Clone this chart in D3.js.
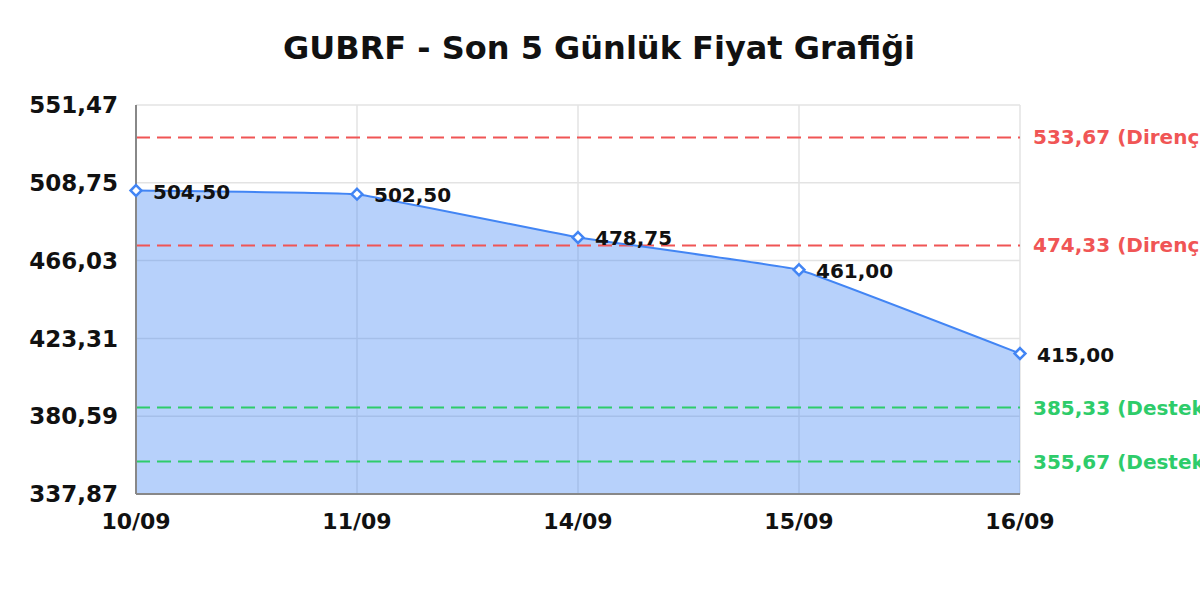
<!DOCTYPE html>
<html>
<head>
<meta charset="utf-8">
<script src="https://cdn.jsdelivr.net/npm/d3@7"></script>
<style>
  body { margin: 0; background: #fff; }
  svg { font-family: "DejaVu Sans", sans-serif; font-weight: bold; }
</style>
</head>
<body>
<div id="wrapper"></div>
<script>
// Data
var dates = ["10/09", "11/09", "14/09", "15/09", "16/09"]
var prices = [504.50, 502.50, 478.75, 461.00, 415.00]
var yTicks = [337.87, 380.59, 423.31, 466.03, 508.75, 551.47]
var resistance = [533.67, 474.33]
var support = [385.33, 355.67]

var fmt = function (v) { return v.toFixed(2).replace(".", ",") }

var margin = { top: 105, right: 180, bottom: 106, left: 136 },
  width = 1200 - margin.left - margin.right,
  height = 600 - margin.top - margin.bottom;

var svg = d3.select("#wrapper")
  .append("svg")
  .attr("width", 1200)
  .attr("height", 600)

// Title
svg.append("text")
  .attr("x", 599)
  .attr("y", 59)
  .attr("text-anchor", "middle")
  .style("font-size", "32px")
  .attr("fill", "#111")
  .text("GUBRF - Son 5 Günlük Fiyat Grafiği")

var g = svg.append("g")
  .attr("transform", "translate(" + margin.left + "," + margin.top + ")")

var x = d3.scalePoint()
  .domain(dates)
  .range([0, width])

var y = d3.scaleLinear()
  .domain([yTicks[0], yTicks[yTicks.length - 1]])
  .range([height, 0])

// Grid
g.append("g")
  .selectAll("line")
  .data(yTicks)
  .enter()
  .append("line")
  .attr("x1", 0)
  .attr("x2", width)
  .attr("y1", d => y(d))
  .attr("y2", d => y(d))
  .attr("stroke", "#e3e3e3")
  .attr("stroke-width", 1.5)

g.append("g")
  .selectAll("line")
  .data(dates)
  .enter()
  .append("line")
  .attr("x1", d => x(d))
  .attr("x2", d => x(d))
  .attr("y1", 0)
  .attr("y2", height)
  .attr("stroke", "#e3e3e3")
  .attr("stroke-width", 1.5)

// Area + line (slight smoothing)
var curve = d3.curveCardinal.tension(0.8)

var area = d3.area()
  .x((d, i) => x(dates[i]))
  .y0(height)
  .y1(d => y(d))
  .curve(curve)

var line = d3.line()
  .x((d, i) => x(dates[i]))
  .y(d => y(d))
  .curve(curve)

g.append("path")
  .datum(prices)
  .attr("d", area)
  .attr("fill", "rgba(66,133,244,0.38)")

// Resistance / support lines
function levelLines(vals, color, label) {
  var lv = g.append("g")
  lv.selectAll("line")
    .data(vals)
    .enter()
    .append("line")
    .attr("x1", 0)
    .attr("x2", width)
    .attr("y1", d => y(d))
    .attr("y2", d => y(d))
    .attr("stroke", color)
    .attr("stroke-width", 2)
    .attr("stroke-dasharray", "14,7")
  lv.selectAll("text")
    .data(vals)
    .enter()
    .append("text")
    .attr("x", width + 13)
    .attr("y", d => y(d))
    .attr("dy", "0.35em")
    .attr("fill", color)
    .style("font-size", "20px")
    .text(d => fmt(d) + " (" + label + ")")
}
levelLines(resistance, "#f05555", "Direnç")
levelLines(support, "#2ecc6a", "Destek")

g.append("path")
  .datum(prices)
  .attr("d", line)
  .attr("fill", "none")
  .attr("stroke", "#4285f4")
  .attr("stroke-width", 2)

// Axes lines
g.append("line")
  .attr("x1", 0).attr("x2", 0)
  .attr("y1", 0).attr("y2", height)
  .attr("stroke", "#888")
  .attr("stroke-width", 2)
g.append("line")
  .attr("x1", 0).attr("x2", width)
  .attr("y1", height).attr("y2", height)
  .attr("stroke", "#888")
  .attr("stroke-width", 2)

// Y tick labels
g.append("g")
  .selectAll("text")
  .data(yTicks)
  .enter()
  .append("text")
  .attr("x", -18)
  .attr("y", d => y(d))
  .attr("dy", "0.36em")
  .attr("text-anchor", "end")
  .attr("fill", "#111")
  .style("font-size", "23px")
  .text(d => fmt(d))

// X tick labels
g.append("g")
  .selectAll("text")
  .data(dates)
  .enter()
  .append("text")
  .attr("x", d => x(d))
  .attr("y", height + 35)
  .attr("text-anchor", "middle")
  .attr("fill", "#111")
  .style("font-size", "22px")
  .text(d => d)

// Markers
g.append("g")
  .selectAll("path")
  .data(prices)
  .enter()
  .append("path")
  .attr("d", d3.symbol().type(d3.symbolDiamond2).size(75))
  .attr("transform", (d, i) => "translate(" + x(dates[i]) + "," + y(d) + ")")
  .attr("fill", "#fff")
  .attr("stroke", "#4285f4")
  .attr("stroke-width", 2.5)

// Value labels
g.append("g")
  .selectAll("text")
  .data(prices)
  .enter()
  .append("text")
  .attr("x", (d, i) => x(dates[i]) + 17)
  .attr("y", d => y(d))
  .attr("dy", "0.4em")
  .attr("fill", "#111")
  .style("font-size", "20px")
  .text(d => fmt(d))
</script>
</body>
</html>
